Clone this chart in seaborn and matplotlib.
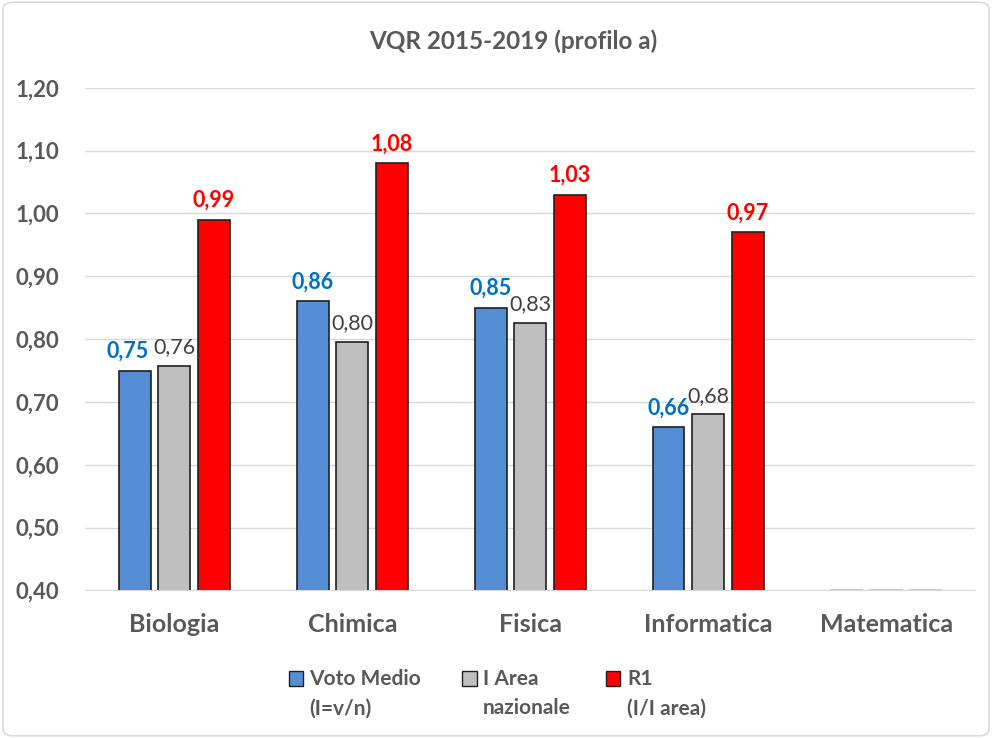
import pandas as pd
import matplotlib.pyplot as plt
import seaborn as sns
from matplotlib.patches import Rectangle, FancyBboxPatch

# data
categories = ['Biologia', 'Chimica', 'Fisica', 'Informatica', 'Matematica']
voto_medio = [0.75, 0.86, 0.85, 0.66, 0.40]
area_nazionale = [0.757, 0.795, 0.826, 0.68, 0.40]
r1 = [0.99, 1.08, 1.03, 0.97, 0.40]
series = ['Voto Medio\n(I=v/n)', 'I Area\nnazionale', 'R1\n(I/I area)']
colors = ['#558ED5', '#BFBFBF', '#FF0000']
label_colors = ['#0070C0', '#404040', '#FF0000']
label_weights = ['bold', 'normal', 'bold']

df = pd.DataFrame({
    'categoria': categories * 3,
    'serie': [s for s in series for _ in categories],
    'valore': voto_medio + area_nazionale + r1,
})

sns.set_style('white')
plt.rcParams['font.family'] = ['Lato', 'DejaVu Sans']

fig = plt.figure(figsize=(9.92, 7.38), dpi=100)
ax = fig.add_axes([0.086, 0.2, 0.897, 0.681])

sns.barplot(data=df, x='categoria', y='valore', hue='serie', palette=colors,
            width=0.666, gap=0.2, saturation=1, edgecolor='#202020', linewidth=1.2,
            ax=ax, legend=False, zorder=3)

ax.set_ylim(0.40, 1.20)
ax.set_yticks([0.4 + 0.1 * i for i in range(9)])
ax.set_yticklabels([f'{0.4 + 0.1 * i:.2f}'.replace('.', ',') for i in range(9)],
                   fontsize=16, fontweight='bold', color='#595959')
ax.tick_params(axis='y', length=0, pad=19)
ax.tick_params(axis='x', length=0, pad=16)
for lab in ax.get_xticklabels():
    lab.set_fontsize(18)
    lab.set_fontweight('bold')
    lab.set_color('#595959')
ax.set_xlabel('')
ax.set_ylabel('')
ax.grid(axis='y', color='#D9D9D9', linewidth=1, zorder=0)
for s in ['top', 'right', 'left']:
    ax.spines[s].set_visible(False)
ax.spines['bottom'].set_color('#D9D9D9')

# data labels (the first Biologia label is nudged left like in the original)
for i, cont in enumerate(ax.containers):
    for j, bar in enumerate(cont):
        if categories[j] == 'Matematica':
            bar.set_edgecolor('#BFBFBF')
            continue
        val = [voto_medio, area_nazionale, r1][i][j]
        x = bar.get_x() + bar.get_width() / 2
        if i == 0 and j == 0:
            x -= 0.04
        ax.text(x, val + 0.014, f'{val:.2f}'.replace('.', ','), ha='center', va='bottom',
                fontsize=15.5, color=label_colors[i], fontweight=label_weights[i], zorder=4)

# legend drawn by hand so the square sits next to the first line
leg_x = [0.291, 0.466, 0.611]
for k, (lx, name) in enumerate(zip(leg_x, series)):
    fig.patches.append(Rectangle((lx, 0.071), 0.0145, 0.0195, transform=fig.transFigure,
                                 facecolor=colors[k], edgecolor='#202020', linewidth=1))
    fig.text(lx + 0.021, 0.093, name, ha='left', va='top', fontsize=15, fontweight='bold',
             color='#595959', linespacing=1.55)

fig.suptitle('VQR 2015-2019 (profilo a)', x=0.517, y=0.96, fontsize=17.5, fontweight='bold',
             color='#595959')

border = FancyBboxPatch((0.003, 0.003), 0.994, 0.994, boxstyle='round,pad=0,rounding_size=0.01',
                        transform=fig.transFigure, fill=False, edgecolor='#D9D9D9', linewidth=1.2)
fig.patches.append(border)

fig.savefig('out.png', dpi=100)
